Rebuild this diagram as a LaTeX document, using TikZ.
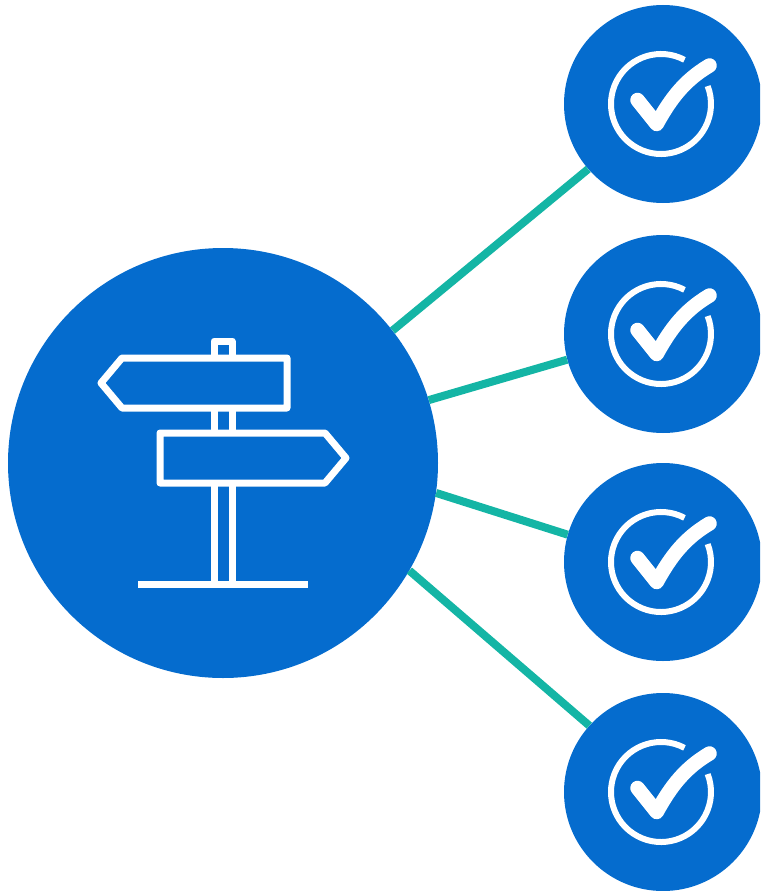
\documentclass[tikz,border=0pt]{standalone}
\definecolor{discblue}{HTML}{056CCE}
\definecolor{linkteal}{HTML}{14B5A5}
\tikzset{
  bigdisc/.style={circle,fill=discblue,draw=none,inner sep=0pt,minimum size=430pt},
  smalldisc/.style={circle,fill=discblue,draw=none,inner sep=0pt,minimum size=198pt},
  link/.style={draw=linkteal,line width=8pt},
  iconline/.style={draw=white,line width=7pt,line join=round},
  checkicon/.pic={
    \draw[white,line width=6pt] (-2,0) ++(62:50) arc[start angle=62,end angle=381,radius=50];
    \draw[white,line width=14.5pt,line cap=round,line join=round]
      (-25.5,4) -- (-6.3,-20) .. controls (8,6) and (22,24) .. (46.5,38.5);
  }
}
\begin{document}
\begin{tikzpicture}[x=1pt,y=1pt]
\useasboundingbox (0,0) rectangle (760,-891);
\clip (0,0) rectangle (760,-891);
\node[bigdisc] (hub) at (223,-463) {};
\node[smalldisc] (s1) at (663,-104) {};
\node[smalldisc] (s2) at (663,-334) {};
\node[smalldisc] (s3) at (663,-562) {};
\node[smalldisc] (s4) at (663,-792) {};
\draw[link] (hub.38.5) -- (s1.221.2);
\draw[link] (hub.17) -- (s2.195.3);
\draw[link] (hub.-8.5) -- (s3.164);
\draw[link] (hub.-30) -- (s4.138.3);
\pic at (s1.center) {checkicon};
\pic at (s2.center) {checkicon};
\pic at (s3.center) {checkicon};
\pic at (s4.center) {checkicon};
% signpost
\draw[iconline] (214,-355) -- (214,-341) -- (232,-341) -- (232,-355);
\draw[iconline] (214,-411) -- (214,-430);
\draw[iconline] (232,-411) -- (232,-430);
\draw[iconline] (214,-486) -- (214,-584);
\draw[iconline] (232,-486) -- (232,-584);
\draw[iconline] (138,-584) -- (308,-584);
\draw[iconline] (101,-383) -- (122,-358) -- (287,-358) -- (287,-408) -- (122,-408) -- cycle;
\draw[iconline] (160,-433) -- (325,-433) -- (346,-458) -- (325,-483) -- (160,-483) -- cycle;
\end{tikzpicture}
\end{document}
